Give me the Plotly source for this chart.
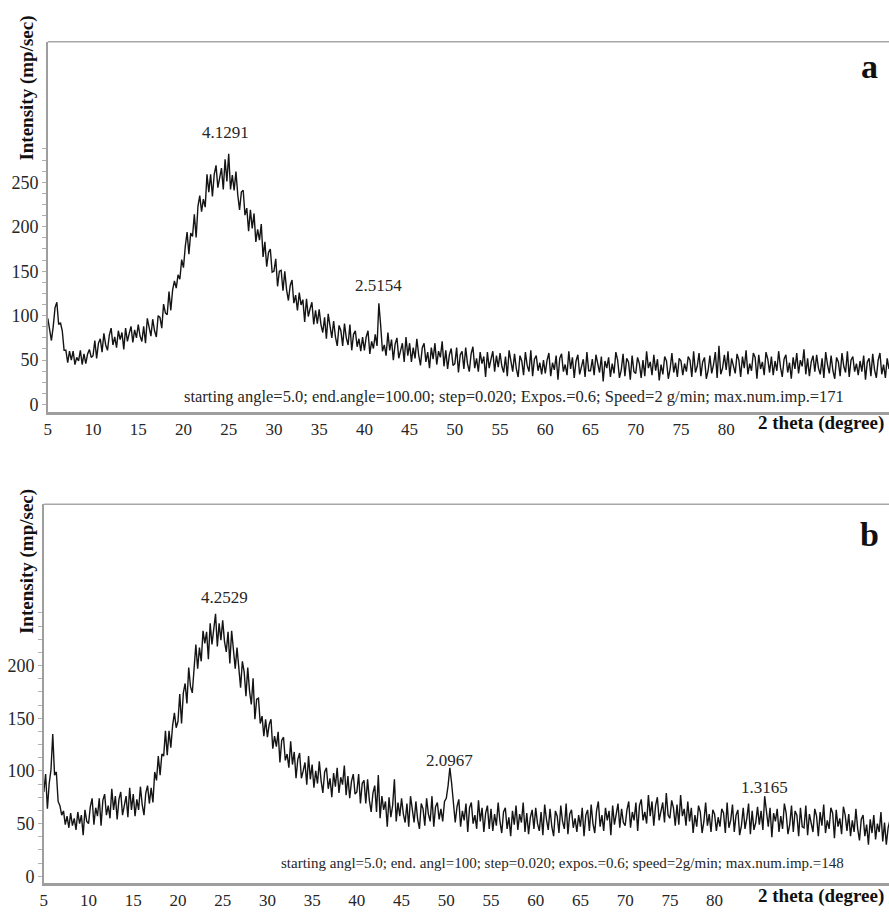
import plotly.graph_objects as go

# Scan grid shared by both patterns (degrees 2-theta)
START_ANGLE = 5.0
STEP = 0.2

# Pattern a: intensity (mp/sec), one reading per 0.2 deg from 5 to 100
intensity_a = [
    97, 83, 72, 88, 109, 115, 90, 92, 83, 61, 61, 47, 60, 50, 60, 45, 53, 49, 61, 45, 57, 46, 57, 62, 53,
    55, 72, 52, 69, 74, 59, 80, 67, 61, 78, 86, 67, 76, 64, 83, 73, 81, 62, 86, 71, 80, 88, 70, 84, 75,
    90, 77, 71, 88, 69, 97, 85, 77, 96, 83, 76, 100, 98, 86, 113, 103, 101, 127, 106, 129, 139, 131, 146, 141, 163,
    154, 178, 194, 169, 193, 189, 214, 188, 223, 235, 217, 231, 222, 259, 239, 259, 234, 259, 269, 244, 255, 266, 242, 276, 251,
    282, 242, 258, 241, 262, 236, 219, 239, 241, 213, 221, 195, 219, 198, 215, 183, 197, 185, 203, 166, 183, 155, 171, 175, 149,
    150, 164, 133, 150, 151, 128, 150, 129, 117, 134, 140, 114, 123, 106, 126, 112, 118, 93, 119, 99, 108, 115, 90, 106, 91,
    107, 90, 81, 98, 74, 102, 87, 75, 94, 76, 66, 89, 83, 66, 91, 75, 67, 90, 61, 79, 83, 65, 74, 60, 76,
    61, 76, 83, 57, 71, 63, 79, 66, 114, 89, 60, 67, 55, 81, 61, 73, 50, 68, 75, 52, 60, 69, 48, 76, 55,
    69, 48, 64, 52, 74, 56, 44, 64, 69, 48, 59, 41, 64, 51, 69, 45, 60, 53, 71, 43, 61, 40, 56, 63, 44,
    46, 64, 36, 56, 60, 40, 64, 46, 37, 57, 65, 41, 52, 37, 59, 46, 54, 31, 59, 41, 51, 60, 37, 55, 42,
    58, 43, 36, 54, 32, 61, 47, 37, 57, 40, 31, 55, 49, 33, 59, 44, 37, 61, 32, 51, 55, 38, 47, 34, 50,
    35, 50, 58, 32, 47, 39, 55, 28, 52, 57, 37, 45, 33, 60, 40, 53, 30, 49, 56, 34, 42, 51, 31, 59, 38,
    38, 51, 33, 56, 47, 36, 54, 26, 49, 41, 53, 31, 46, 35, 59, 50, 30, 39, 57, 32, 52, 48, 28, 55, 37,
    35, 53, 46, 30, 50, 32, 60, 41, 48, 33, 56, 38, 51, 27, 45, 34, 54, 49, 29, 40, 58, 36, 47, 31, 52,
    49, 33, 46, 37, 54, 50, 31, 60, 36, 43, 58, 32, 48, 53, 29, 38, 55, 35, 45, 59, 30, 66, 34, 41, 56,
    39, 60, 32, 52, 43, 35, 57, 50, 31, 54, 41, 61, 34, 46, 38, 58, 53, 29, 56, 40, 48, 33, 59, 51, 36,
    54, 33, 49, 38, 60, 42, 31, 51, 56, 36, 47, 29, 53, 40, 58, 35, 50, 43, 62, 34, 52, 32, 48, 55, 37,
    56, 41, 34, 52, 30, 59, 45, 35, 55, 38, 29, 53, 48, 32, 58, 43, 36, 60, 31, 50, 54, 37, 46, 33, 49,
    37, 55, 28, 48, 52, 32, 57, 39, 30, 50, 58, 34, 45, 30, 52, 40, 48, 25, 52, 34, 45, 54, 31, 49, 36,
    42,
]

# Pattern b: intensity (mp/sec), same grid
intensity_b = [
    80, 97, 64, 88, 101, 135, 96, 99, 71, 67, 58, 62, 49, 57, 46, 60, 48, 55, 44, 61, 50, 58, 39, 63, 52,
    50, 66, 74, 49, 65, 57, 74, 48, 72, 78, 58, 67, 55, 83, 63, 76, 54, 73, 80, 58, 67, 76, 56, 84, 63,
    78, 57, 73, 63, 85, 68, 58, 79, 86, 69, 84, 70, 99, 91, 114, 96, 116, 114, 138, 115, 138, 122, 143, 155, 141,
    147, 173, 145, 174, 183, 164, 198, 180, 174, 203, 220, 197, 217, 204, 233, 221, 232, 206, 240, 220, 234, 249, 218, 240, 224,
    243, 223, 213, 232, 202, 233, 213, 197, 217, 193, 179, 204, 194, 171, 198, 176, 163, 188, 149, 168, 169, 145, 152, 133, 149,
    132, 144, 149, 121, 133, 123, 137, 108, 129, 132, 110, 116, 103, 128, 106, 118, 93, 111, 117, 93, 100, 108, 87, 114, 92,
    106, 84, 100, 88, 109, 91, 79, 99, 103, 83, 93, 75, 98, 85, 103, 79, 94, 87, 105, 77, 95, 74, 90, 97, 78,
    80, 97, 69, 88, 91, 69, 92, 72, 61, 79, 86, 61, 96, 55, 76, 63, 71, 47, 75, 56, 67, 92, 52, 70, 57,
    74, 59, 51, 69, 47, 76, 62, 51, 71, 54, 45, 69, 64, 48, 74, 59, 52, 76, 47, 66, 70, 54, 64, 52, 71,
    74, 86, 103, 88, 72, 51, 66, 73, 47, 62, 53, 69, 42, 65, 70, 50, 58, 45, 72, 52, 65, 42, 60, 67, 45,
    64, 43, 59, 48, 70, 52, 41, 61, 65, 45, 56, 38, 62, 49, 67, 44, 59, 51, 70, 42, 60, 40, 56, 63, 45,
    65, 50, 43, 61, 39, 68, 54, 44, 64, 47, 38, 62, 57, 41, 67, 52, 45, 69, 40, 59, 63, 46, 55, 42, 58,
    47, 65, 38, 58, 63, 43, 68, 50, 41, 62, 71, 47, 58, 43, 65, 53, 62, 39, 67, 49, 60, 69, 46, 64, 51,
    48, 63, 71, 46, 61, 53, 70, 43, 67, 73, 53, 61, 50, 77, 57, 71, 48, 67, 75, 53, 61, 70, 51, 79, 58,
    55, 72, 65, 48, 68, 49, 77, 57, 64, 48, 71, 52, 65, 41, 58, 47, 67, 61, 41, 52, 70, 48, 59, 42, 63,
    59, 43, 56, 47, 64, 60, 41, 70, 46, 53, 68, 42, 58, 63, 39, 48, 65, 45, 55, 69, 40, 62, 44, 51, 66,
    49, 62, 44, 76, 58, 47, 65, 37, 60, 52, 64, 42, 57, 45, 69, 60, 40, 49, 67, 42, 62, 58, 38, 65, 47,
    46, 67, 39, 59, 50, 42, 64, 57, 38, 61, 48, 68, 41, 53, 45, 65, 60, 36, 63, 47, 55, 40, 66, 58, 43,
    59, 38, 53, 42, 64, 45, 34, 54, 58, 38, 49, 30, 54, 41, 58, 35, 50, 42, 61, 33, 51, 30, 46, 53, 35,
    44,
]

angles_a = [round(START_ANGLE + STEP * i, 2) for i in range(len(intensity_a))]
angles_b = [round(START_ANGLE + STEP * i, 2) for i in range(len(intensity_b))]

# Tick values
x_ticks = [5, 10, 15, 20, 25, 30, 35, 40, 45, 50, 55, 60, 65, 70, 75, 80]

# d-spacing labels: (text, 2-theta of the reflection, vertical offset in px)
peaks_a = [("4.1291", 24.6, 10), ("2.5154", 41.6, 6)]
peaks_b = [("4.2529", 25.2, 5), ("2.0967", 50.4, -4), ("1.3165", 85.6, -3)]

note_a = ("starting angle=5.0; end.angle=100.00; step=0.020; Expos.=0.6; "
          "Speed=2 g/min; max.num.imp.=171")
note_b = ("starting angl=5.0; end. angl=100; step=0.020; expos.=0.6; "
          "speed=2g/min; max.num.imp.=148")

W, H = 889, 914
SERIF = "Liberation Serif"
AXIS_GREY = "#9e9e9e"
INK = "#262626"


def px_x(p):
    return p / W


def px_y(p):
    return 1 - p / H


def y_ticks(top, label_max):
    """Small ticks every 12.5 units, numbers on the multiples of 50."""
    vals, texts = [], []
    v = 0.0
    while v <= top + 1e-9:
        vals.append(v)
        texts.append(str(int(v)) if v % 50 == 0 and v <= label_max else "")
        v += 12.5
    return vals, texts


fig = go.Figure()
for xs, ys, xa, ya in ((angles_a, intensity_a, "x", "y"),
                       (angles_b, intensity_b, "x2", "y2")):
    fig.add_trace(go.Scatter(x=xs, y=ys, mode="lines",
                             line=dict(color="#141414", width=1.4),
                             xaxis=xa, yaxis=ya, showlegend=False,
                             hoverinfo="skip"))

ya_vals, ya_text = y_ticks(287.5, 250)
yb_vals, yb_text = y_ticks(250, 200)

x_common = dict(
    tickvals=x_ticks, ticktext=[str(t) for t in x_ticks],
    ticks="", showgrid=False, zeroline=False,
    showline=True, linecolor=AXIS_GREY, linewidth=2.5,
    tickfont=dict(family=SERIF, size=17, color=INK),
)
y_common = dict(
    ticks="outside", ticklen=4, tickwidth=1, tickcolor="#b0b0b0",
    showgrid=False, zeroline=False,
    showline=True, linecolor=AXIS_GREY, linewidth=1.5,
    tickfont=dict(family=SERIF, size=18, color=INK),
)

fig.update_layout(
    width=W, height=H,
    margin=dict(l=0, r=0, t=0, b=0),
    paper_bgcolor="white", plot_bgcolor="white",
    font=dict(family=SERIF),
    xaxis=dict(domain=[px_x(44), 1.0], range=[5, 98], anchor="y", **x_common),
    yaxis=dict(domain=[px_y(413), px_y(42)], range=[-8, 408], anchor="x",
               tickvals=ya_vals, ticktext=ya_text, **y_common),
    xaxis2=dict(domain=[px_x(40), 1.0], range=[5, 99.5], anchor="y2", **x_common),
    yaxis2=dict(domain=[px_y(886), px_y(506)], range=[-6.5, 353], anchor="x2",
                tickvals=yb_vals, ticktext=yb_text, **y_common),
)

# top frame line of each panel
for xr, yr in (("x domain", "y domain"), ("x2 domain", "y2 domain")):
    fig.add_shape(type="line", xref=xr, yref=yr, x0=0, x1=1, y0=1, y1=1,
                  line=dict(color="#a8a8a8", width=1.5))


def peak_label(xs, ys, x0, text, xref, yref, shift):
    near = [y for x, y in zip(xs, ys) if abs(x - x0) <= 1.0]
    return dict(x=x0, y=max(near), text=text, xref=xref, yref=yref,
                showarrow=False, xanchor="center", yanchor="bottom",
                yshift=shift, font=dict(family=SERIF, size=17, color=INK))


for t, x0, s in peaks_a:
    fig.add_annotation(**peak_label(angles_a, intensity_a, x0, t, "x", "y", s))
for t, x0, s in peaks_b:
    fig.add_annotation(**peak_label(angles_b, intensity_b, x0, t, "x2", "y2", s))

bold19 = dict(family=SERIF, size=19, color="#111")

for ymid, xtitle_y, letter, letter_y, note, note_y, note_size in (
    (88, 424, "a", 67, note_a, 398, 16.5),
    (563, 899, "b", 536, note_b, 866, 15),
):
    fig.add_annotation(x=px_x(23), y=px_y(ymid), xref="paper", yref="paper",
                       xanchor="center", yanchor="middle",
                       text="<b>Intensity (mp/sec)</b>", textangle=-90,
                       showarrow=False, font=bold19)
    fig.add_annotation(x=px_x(755), y=px_y(xtitle_y), xref="paper", yref="paper",
                       xanchor="left", yanchor="middle",
                       text="<b>2 theta (degree)</b>",
                       showarrow=False, font=bold19)
    fig.add_annotation(x=px_x(869), y=px_y(letter_y), xref="paper", yref="paper",
                       xanchor="center", yanchor="middle",
                       text="<b>%s</b>" % letter, showarrow=False,
                       font=dict(family=SERIF, size=34, color="#111"))
    fig.add_annotation(x=px_x(846), y=px_y(note_y), xref="paper", yref="paper",
                       xanchor="right", yanchor="middle", text=note,
                       showarrow=False,
                       font=dict(family=SERIF, size=note_size, color=INK))

fig.write_html("out.html")
